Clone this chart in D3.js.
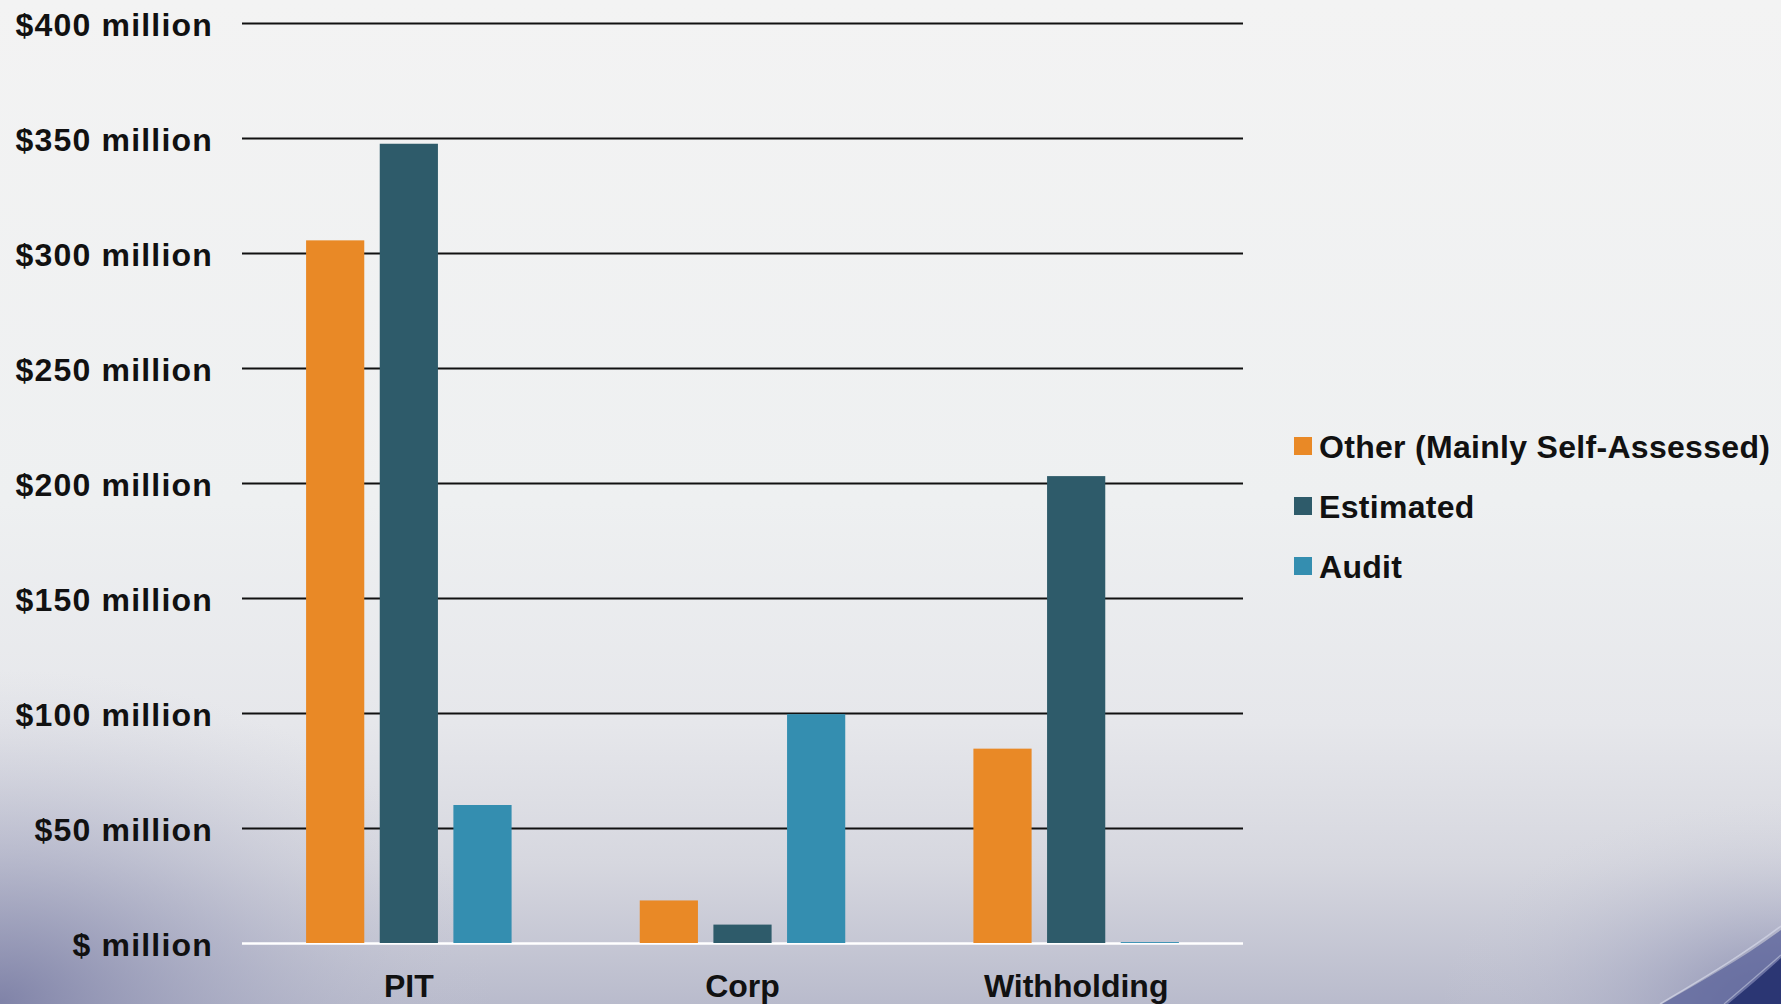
<!DOCTYPE html>
<html>
<head>
<meta charset="utf-8">
<script src="https://cdn.jsdelivr.net/npm/d3@7"></script>
<style>
  html, body { margin: 0; padding: 0; overflow: hidden; background: #f2f2f2; }
  svg { display: block; }
  text { font-family: "Liberation Sans", Arial, sans-serif; font-weight: bold; fill: #111; }
</style>
</head>
<body>
<svg id="chart" width="1781" height="1004"></svg>
<script>
// ---- data ----
const categories = ["PIT", "Corp", "Withholding"];
const seriesNames = ["Other (Mainly Self-Assessed)", "Estimated", "Audit"];
const otherValues = [305.5, 18.5, 84.5];
const estimatedValues = [347.5, 8, 203];
const auditValues = [60, 99.5, 0.4];
const yTicks = [0, 50, 100, 150, 200, 250, 300, 350, 400];
const seriesColors = ["#e98926", "#2e5b6a", "#348eb0"];

const seriesValues = [otherValues, estimatedValues, auditValues];

const W = 1781, H = 1004;
const plot = { left: 242, right: 1243, top: 23, bottom: 943 };
const svg = d3.select("#chart");

// ---- background ----
const defs = svg.append("defs");
const lg = defs.append("linearGradient").attr("id", "bgv").attr("x1", 0).attr("y1", 0).attr("x2", 0).attr("y2", 1);
[[0, "#f3f3f3"], [0.5, "#eef0f1"], [0.72, "#e6e7eb"], [0.86, "#d6d7df"], [1, "#b9bbcc"]]
  .forEach(([o, c]) => lg.append("stop").attr("offset", o).attr("stop-color", c));
const rg = defs.append("radialGradient").attr("id", "bgbl").attr("cx", 0).attr("cy", 1).attr("r", 0.55)
  .attr("gradientTransform", "scale(1,1.2) translate(0,-0.17)");
[[0, "#7d80a6", 0.95], [0.5, "#9ea1bd", 0.45], [1, "#c8c9d6", 0]]
  .forEach(([o, c, op]) => rg.append("stop").attr("offset", o).attr("stop-color", c).attr("stop-opacity", op));
const rg2 = defs.append("radialGradient").attr("id", "bgbr").attr("cx", 1).attr("cy", 1).attr("r", 0.5);
[[0, "#8488ad", 0.9], [0.5, "#a7aac4", 0.4], [1, "#cfd0db", 0]]
  .forEach(([o, c, op]) => rg2.append("stop").attr("offset", o).attr("stop-color", c).attr("stop-opacity", op));

svg.append("rect").attr("width", W).attr("height", H).attr("fill", "url(#bgv)");
svg.append("rect").attr("x", 0).attr("y", 500).attr("width", 900).attr("height", 504).attr("fill", "url(#bgbl)");
svg.append("rect").attr("x", 1100).attr("y", 600).attr("width", 681).attr("height", 404).attr("fill", "url(#bgbr)");
// swoosh bottom right
svg.append("path")
  .attr("d", "M1781,930 C1740,960 1700,982 1662,1004 L1781,1004 Z")
  .attr("fill", "#5a6199").attr("opacity", 0.75);
svg.append("path")
  .attr("d", "M1781,958 C1762,975 1745,990 1728,1004 L1781,1004 Z")
  .attr("fill", "#2b3673");
svg.append("path")
  .attr("d", "M1781,926 C1740,957 1700,980 1660,1004")
  .attr("fill", "none").attr("stroke", "#d3d6e6").attr("stroke-width", 1.5).attr("opacity", 0.75);
svg.append("path")
  .attr("d", "M1781,955 C1760,973 1742,989 1724,1004")
  .attr("fill", "none").attr("stroke", "#c2c6dc").attr("stroke-width", 1.2).attr("opacity", 0.6);

// ---- scales ----
const x0 = d3.scaleBand().domain(categories).range([plot.left, plot.right]).paddingInner(0).paddingOuter(0);
const x1 = d3.scaleBand().domain(seriesNames).range([0, x0.bandwidth()]).paddingInner(0.21).paddingOuter(0.87);
const y = d3.scaleLinear().domain([0, 400]).range([plot.bottom, plot.top]);
const color = d3.scaleOrdinal().domain(seriesNames).range(seriesColors);

// ---- gridlines ----
const grid = svg.append("g").attr("transform", `translate(${plot.left},0)`)
  .call(d3.axisRight(y).tickValues(yTicks).tickSize(plot.right - plot.left).tickFormat(""));
grid.select(".domain").remove();
grid.selectAll(".tick line")
  .attr("stroke", d => d === 0 ? "#ffffff" : "#111111")
  .attr("stroke-width", d => d === 0 ? 2.5 : 2.2);

// ---- bars ----
const groups = svg.append("g").selectAll("g").data(categories).join("g")
  .attr("transform", d => `translate(${x0(d)},0)`);
groups.selectAll("rect")
  .data((c, ci) => seriesNames.map((s, si) => ({ s, v: seriesValues[si][ci] })))
  .join("rect")
  .attr("x", d => x1(d.s))
  .attr("width", x1.bandwidth())
  .attr("y", d => y(d.v))
  .attr("height", d => y(0) - y(d.v))
  .attr("fill", d => color(d.s));

// ---- y labels ----
const yAxis = svg.append("g").attr("transform", `translate(${plot.left},0)`)
  .call(d3.axisLeft(y).tickValues(yTicks).tickSize(0).tickPadding(29)
    .tickFormat(d => d === 0 ? "$ million" : `$${d} million`));
yAxis.select(".domain").remove();
yAxis.selectAll("text")
  .attr("fill", "#111").style("font-size", "32px").style("font-weight", "bold")
  .style("font-family", '"Liberation Sans", Arial, sans-serif')
  .style("letter-spacing", "1.2px").attr("dy", "0.38em");

// ---- x labels ----
const xAxis = svg.append("g").attr("transform", `translate(0,${plot.bottom})`)
  .call(d3.axisBottom(x0).tickSize(0).tickPadding(31));
xAxis.select(".domain").remove();
xAxis.selectAll("text")
  .attr("fill", "#111").style("font-size", "32px").style("font-weight", "bold")
  .style("font-family", '"Liberation Sans", Arial, sans-serif');

// ---- legend ----
const legend = svg.append("g").selectAll("g").data(seriesNames).join("g")
  .attr("transform", (d, i) => `translate(1294,${446 + i * 60})`);
legend.append("rect").attr("x", 0).attr("y", -9).attr("width", 18).attr("height", 18)
  .attr("fill", d => color(d));
legend.append("text").attr("x", 25).attr("y", 0).attr("dy", "0.36em")
  .style("font-size", "32px").style("letter-spacing", "0.3px").text(d => d);
</script>
</body>
</html>
